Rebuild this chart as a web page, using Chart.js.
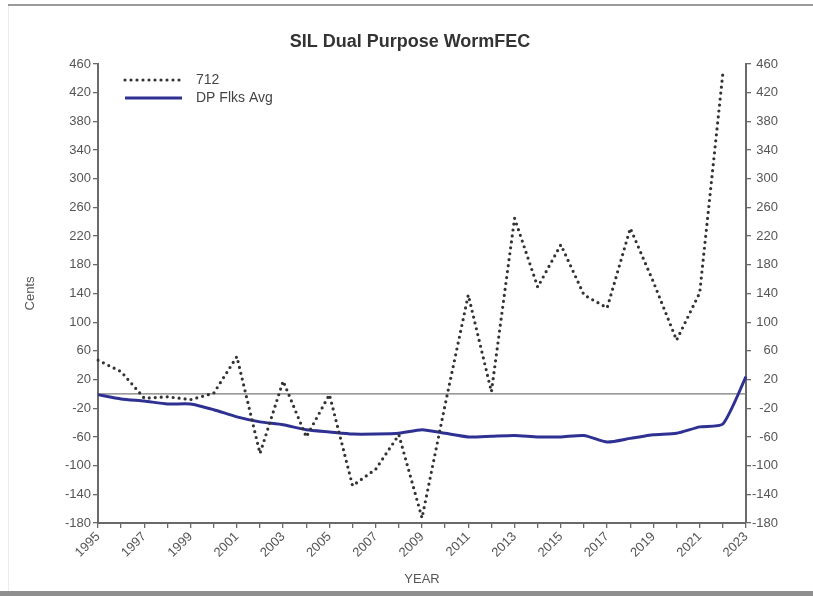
<!DOCTYPE html>
<html>
<head>
<meta charset="utf-8">
<script src="https://cdn.jsdelivr.net/npm/chart.js@4/dist/chart.umd.min.js"></script>
<style>
  body { margin: 0; background: #fff; }
  #wrap { position: relative; width: 813px; height: 596px; overflow: hidden; }
  #topRule { position: absolute; left: 8px; right: 0; top: 4px; height: 2px; background: #9a9a9a; }
  #leftRule { position: absolute; left: 8px; top: 6px; width: 1px; height: 585px; background: #ececec; }
  #bottomBar { position: absolute; left: 0; right: 0; top: 591px; height: 5px; background: #8f8f8f; }
  canvas { position: absolute; left: 0; top: 0; }
</style>
</head>
<body>
<div id="wrap">
  <canvas id="wormChart" width="813" height="596"></canvas>
  <div id="topRule"></div>
  <div id="leftRule"></div>
  <div id="bottomBar"></div>
</div>
<script>
// SIL Dual Purpose WormFEC

const years = ['1995', '1996', '1997', '1998', '1999', '2000', '2001', '2002', '2003', '2004',
               '2005', '2006', '2007', '2008', '2009', '2010', '2011', '2012', '2013', '2014',
               '2015', '2016', '2017', '2018', '2019', '2020', '2021', '2022', '2023'];

// sire 712 (dotted)
const sire712 = [47, 31, -6, -4, -8, 1, 52, -83, 18, -60,
                 -1, -128, -105, -57, -173, -15, 138, 3, 245, 149,
                 208, 138, 120, 231, 156, 75, 141, 447, null];

// DP flocks average (solid)
const dpFlksAvg = [-1, -7, -10, -14, -14, -22, -32, -39, -43, -50,
                   -53, -56, -56, -55, -50, -55, -60, -59, -58, -60,
                   -60, -58, -67, -62, -57, -55, -46, -42, 24];

const centsMin = -180;
const centsMax = 460;
const centsStep = 40;

const chartTitle = 'SIL Dual Purpose WormFEC';

const colors = {
    sire: '#333333',
    avg: '#2e3192',
    axis: '#6a6a6a',
    text: '#555555',
};

const tickFont = { family: 'Liberation Sans, Arial, sans-serif', size: 13 };

// title, zero reference line + legend inside the plot
const extras = {
    id: 'extras',
    beforeDatasetsDraw(chart) {
        const ctx = chart.ctx;
        const y = chart.scales.y.getPixelForValue(0);
        ctx.save();
        ctx.strokeStyle = '#7a7a7a';
        ctx.lineWidth = 1.3;
        ctx.beginPath();
        ctx.moveTo(chart.chartArea.left, y);
        ctx.lineTo(chart.chartArea.right, y);
        ctx.stroke();
        ctx.restore();
    },
    afterDraw(chart) {
        const ctx = chart.ctx;
        const items = chart.data.datasets;
        ctx.save();
        // title, centred over the whole picture
        ctx.font = 'bold 18px Liberation Sans, Arial, sans-serif';
        ctx.fillStyle = '#333';
        ctx.textAlign = 'center';
        ctx.textBaseline = 'middle';
        ctx.fillText(chartTitle, 410, 42);

        ctx.textAlign = 'left';
        ctx.font = '14px Liberation Sans, Arial, sans-serif';
        items.forEach((ds, i) => {
            const y = 80 + i * 18;
            ctx.strokeStyle = ds.borderColor;
            ctx.lineWidth = ds.borderWidth;
            ctx.lineCap = ds.borderCapStyle || 'butt';
            ctx.setLineDash(ds.borderDash || []);
            ctx.beginPath();
            ctx.moveTo(125, y);
            ctx.lineTo(182, y);
            ctx.stroke();
            ctx.setLineDash([]);
            ctx.fillStyle = '#444';
            ctx.fillText(ds.label, 196, y);
        });
        ctx.restore();
    }
};

new Chart(document.getElementById('wormChart'), {
    type: 'line',
    data: {
        labels: years,
        datasets: [
            {
                label: '712',
                data: sire712,
                borderColor: colors.sire,
                borderWidth: 3.2,
                borderDash: [0, 6],
                borderCapStyle: 'round',
                pointRadius: 0,
                tension: 0,
                spanGaps: false,
            },
            {
                label: 'DP Flks Avg',
                data: dpFlksAvg,
                borderColor: colors.avg,
                borderWidth: 3,
                pointRadius: 0,
                tension: 0.2,
            }
        ]
    },
    options: {
        responsive: false,
        animation: false,
        layout: { padding: { left: 0, right: 35, top: 64, bottom: 0 } },
        plugins: {
            legend: { display: false },
            tooltip: { enabled: false },
            title: { display: false },
        },
        scales: {
            x: {
                type: 'category',
                grid: { drawOnChartArea: false, tickLength: 5, color: colors.axis, lineWidth: 1.3 },
                border: { color: colors.axis, width: 2 },
                ticks: {
                    autoSkip: false,
                    minRotation: 45,
                    maxRotation: 45,
                    padding: 1,
                    color: colors.text,
                    font: tickFont,
                    callback: (val, i) => (i % 2 === 0 ? years[i] : ''),
                },
                title: {
                    display: true,
                    text: 'YEAR',
                    color: colors.text,
                    font: tickFont,
                    padding: { top: 0, bottom: 9 },
                },
                afterFit: (scale) => { scale.height = 73; },
            },
            y: {
                position: 'left',
                min: centsMin,
                max: centsMax,
                grid: { drawOnChartArea: false, tickLength: 5, color: colors.axis, lineWidth: 1.3 },
                border: { color: colors.axis, width: 2 },
                ticks: { stepSize: centsStep, padding: 2, color: colors.text, font: tickFont },
                title: {
                    display: true,
                    text: 'Cents',
                    color: colors.text,
                    font: tickFont,
                    padding: { top: 23, bottom: 0 },
                },
                afterFit: (scale) => { scale.width = 98; },
            },
            y2: {
                position: 'right',
                min: centsMin,
                max: centsMax,
                grid: { drawOnChartArea: false, tickLength: 5, color: colors.axis, lineWidth: 1.3 },
                border: { color: colors.axis, width: 2 },
                ticks: { stepSize: centsStep, padding: 3, color: colors.text, font: tickFont, crossAlign: 'far' },
                afterFit: (scale) => { scale.width = 32; },
            },
        },
    },
    plugins: [extras],
});
</script>
</body>
</html>
